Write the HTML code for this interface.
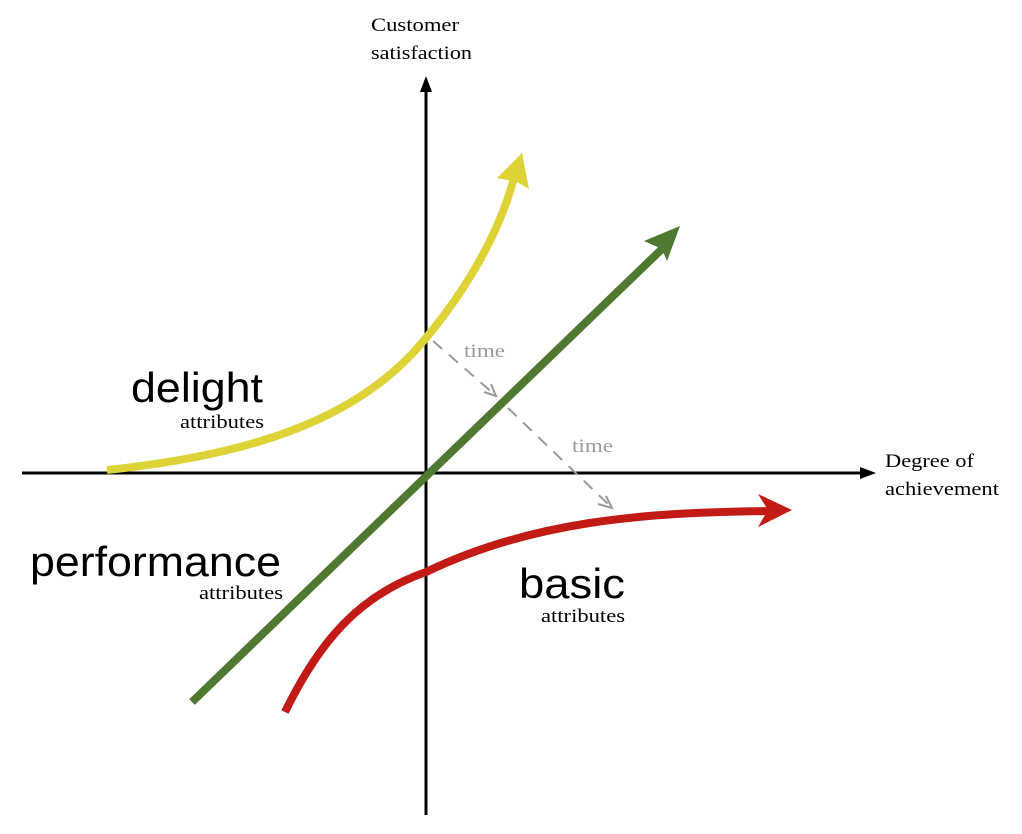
<!DOCTYPE html>
<html><head><style>body{margin:0;background:#fff}svg{display:block}</style></head><body>
<svg width="1022" height="834" viewBox="0 0 1022 834" xmlns="http://www.w3.org/2000/svg">
<g stroke="#000" stroke-width="3" fill="none">
<line x1="426" y1="815" x2="426" y2="88"/>
<line x1="22" y1="473" x2="866" y2="473"/>
</g>
<polygon points="426,76 420,92 432,92" fill="#000"/>
<polygon points="876,473 860,467 860,479" fill="#000"/>
<g font-family="Liberation Serif, serif" font-size="19" fill="#000">
<text x="371" y="31" textLength="88" lengthAdjust="spacingAndGlyphs">Customer</text>
<text x="371" y="59" textLength="101" lengthAdjust="spacingAndGlyphs">satisfaction</text>
<text x="885" y="467" textLength="89" lengthAdjust="spacingAndGlyphs">Degree of</text>
<text x="885" y="495" textLength="114" lengthAdjust="spacingAndGlyphs">achievement</text>
</g>
<path d="M107,470 C250,455 360,420 426,338 C470,285 500,230 514,178" stroke="#ddd236" stroke-width="8" fill="none"/>
<polygon points="522,153 529,189 517,182 497,178" fill="#ddd236"/>
<line x1="192" y1="702" x2="665" y2="246" stroke="#507830" stroke-width="8"/>
<polygon points="680,226 667,261 662,249 644,241" fill="#507830"/>
<path d="M285,712 C320,640 360,595 426,572 C530,522 640,512 775,511" stroke="#c21a14" stroke-width="8" fill="none"/>
<polygon points="792,510 758,494 768,510 758,527" fill="#c21a14"/>
<g stroke="#999" stroke-width="2" fill="none">
<line x1="433" y1="341" x2="494" y2="394" stroke-dasharray="12,9"/>
<line x1="508" y1="408" x2="608" y2="504" stroke-dasharray="12,9"/>
<polyline points="484,392 496,396 491,384"/>
<polyline points="598,504 612,508 606,496"/>
</g>
<g font-family="Liberation Serif, serif" font-size="19" fill="#999">
<text x="464" y="357" textLength="41" lengthAdjust="spacingAndGlyphs">time</text>
<text x="572" y="452" textLength="41" lengthAdjust="spacingAndGlyphs">time</text>
</g>
<g font-family="Liberation Sans, sans-serif" fill="#000" font-size="42">
<text x="131" y="402" textLength="132" lengthAdjust="spacingAndGlyphs">delight</text>
<text x="30" y="576" textLength="251" lengthAdjust="spacingAndGlyphs">performance</text>
<text x="519" y="598" textLength="106" lengthAdjust="spacingAndGlyphs">basic</text>
</g>
<g font-family="Liberation Serif, serif" font-size="19" fill="#000">
<text x="180" y="428" textLength="84" lengthAdjust="spacingAndGlyphs">attributes</text>
<text x="199" y="599" textLength="84" lengthAdjust="spacingAndGlyphs">attributes</text>
<text x="541" y="622" textLength="84" lengthAdjust="spacingAndGlyphs">attributes</text>
</g>
</svg>
</body></html>
